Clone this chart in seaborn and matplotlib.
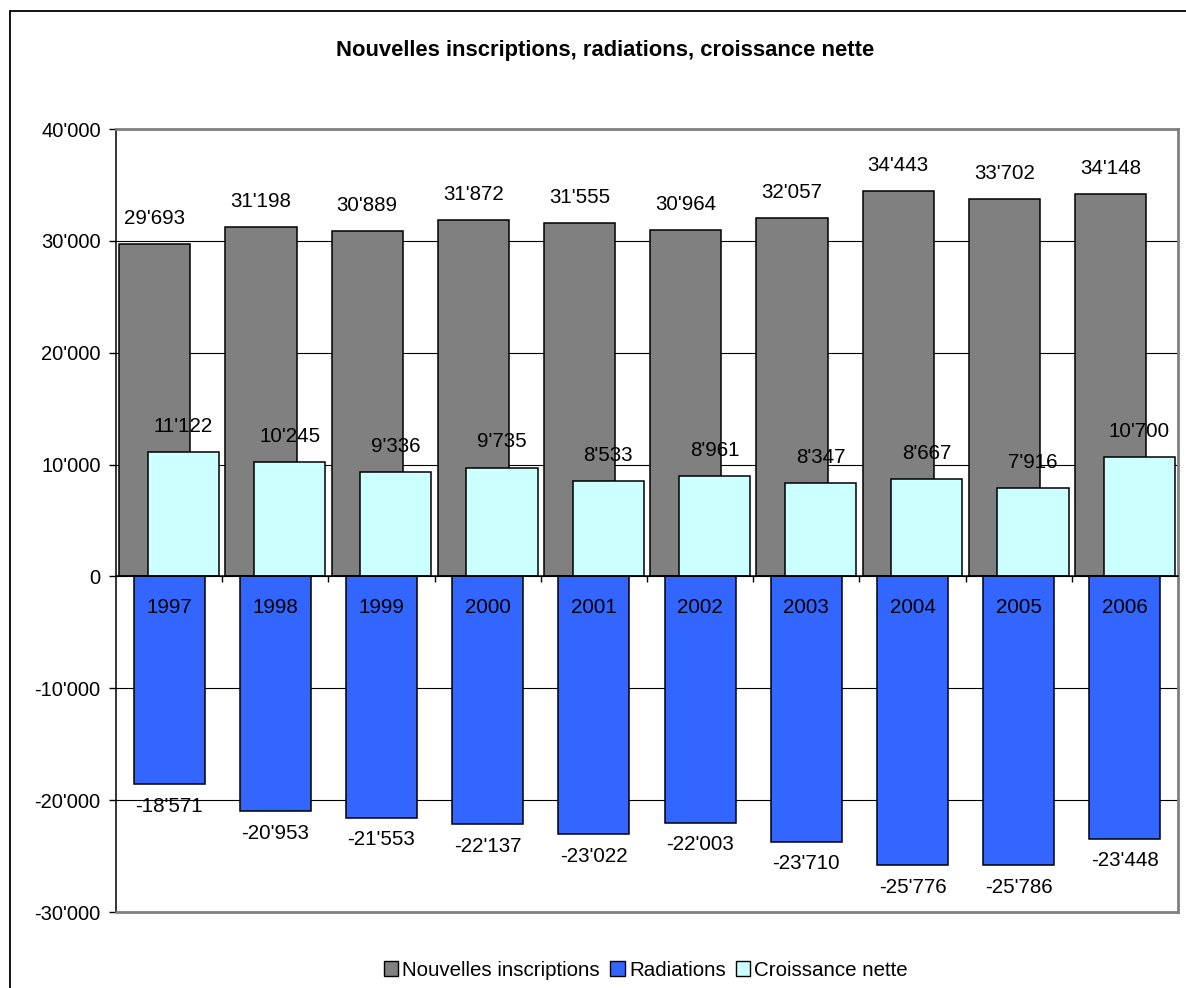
import matplotlib
matplotlib.use("Agg")  # headless backend
import matplotlib.pyplot as plt
from matplotlib.patches import Patch, Rectangle
import numpy as np
import pandas as pd
import seaborn as sns

# ---------------------------------------------------------------------------
# Data
# ---------------------------------------------------------------------------
years = ["1997", "1998", "1999", "2000", "2001", "2002", "2003", "2004", "2005", "2006"]
nouvelles_inscriptions = [29693, 31198, 30889, 31872, 31555, 30964, 32057, 34443, 33702, 34148]
radiations = [-18571, -20953, -21553, -22137, -23022, -22003, -23710, -25776, -25786, -23448]
croissance_nette = [11122, 10245, 9336, 9735, 8533, 8961, 8347, 8667, 7916, 10700]

series_names = ["Nouvelles inscriptions", "Radiations", "Croissance nette"]
series_colors = ["#808080", "#3366FF", "#CCFFFF"]
yticks = [-30000, -20000, -10000, 0, 10000, 20000, 30000, 40000]

title = "Nouvelles inscriptions, radiations, croissance nette"


def fmt(v):
    return f"{v:,}".replace(",", "'")


sns.set_style("white")
plt.rcParams["font.family"] = ["Liberation Sans", "DejaVu Sans"]
plt.rcParams["font.size"] = 14.5
plt.rcParams["text.color"] = "black"

W, H = 1186, 988
fig = plt.figure(figsize=(W / 100, H / 100), dpi=100)
ax = fig.add_axes([116 / W, 1 - 912 / H, (1178 - 116) / W, (912 - 129) / H])

pos = np.arange(len(years))
offset = 0.135
bar_w = 0.67

# overlapping Excel-style bars: grey, then blue, then cyan on top
df = pd.DataFrame({
    "pos": pos,
    "ins": nouvelles_inscriptions,
    "rad": radiations,
    "net": croissance_nette,
})
for col, shift, color in zip(["ins", "rad", "net"], [-offset, 0, offset], series_colors):
    sns.barplot(x=df["pos"] + shift, y=df[col], native_scale=True, width=bar_w,
                color=color, saturation=1, edgecolor="black", linewidth=1.1,
                errorbar=None, ax=ax)

ax.set_xlim(-0.5, len(years) - 0.5)
ax.set_ylim(yticks[0], yticks[-1])
ax.set_xlabel("")
ax.set_ylabel("")

# axes / grid
ax.set_axisbelow(True)
ax.set_yticks(yticks)
ax.set_yticklabels([fmt(t) for t in yticks])
ax.yaxis.grid(True, color="black", linewidth=0.8)
ax.tick_params(axis="y", direction="out", length=5, width=1, pad=6,
               left=True, labelsize=14.5, colors="black")
ax.set_xticks(np.arange(0.5, len(years), 1))
ax.tick_params(axis="x", direction="out", length=4, width=1,
               bottom=True, labelbottom=False, colors="black")

ax.spines["left"].set_color("black")
ax.spines["left"].set_linewidth(1.1)
ax.spines["bottom"].set_position(("data", 0))
ax.spines["bottom"].set_color("black")
ax.spines["bottom"].set_linewidth(1.1)
for side in ["top", "right"]:
    ax.spines[side].set_visible(True)
    ax.spines[side].set_color("#808080")
    ax.spines[side].set_linewidth(2)
ax.axhline(yticks[0], color="#808080", linewidth=2, clip_on=False, zorder=3)

# value labels
for i in pos:
    ax.annotate(fmt(nouvelles_inscriptions[i]), (i - offset, nouvelles_inscriptions[i]),
                xytext=(0, 14.5), textcoords="offset points",
                ha="center", va="baseline", fontsize=14.8, color="black")
    ax.annotate(fmt(croissance_nette[i]), (i + offset, croissance_nette[i]),
                xytext=(0, 14.5), textcoords="offset points",
                ha="center", va="baseline", fontsize=14.8, color="black")
    ax.annotate(fmt(radiations[i]), (i, radiations[i]),
                xytext=(0, -20), textcoords="offset points",
                ha="center", va="baseline", fontsize=14.8, color="black")
    ax.annotate(years[i], (i, 0), xytext=(0, -26), textcoords="offset points",
                ha="center", va="baseline", fontsize=14.8, color="black", zorder=5)

fig.text(605 / W, 1 - 56 / H, title, ha="center", va="baseline",
         fontsize=15.8, fontweight="bold", color="black")

handles = [Patch(facecolor=c, edgecolor="black", linewidth=1) for c in series_colors]
fig.legend(handles, series_names, loc="center", bbox_to_anchor=(646 / W, 1 - 970 / H),
           ncol=3, frameon=False, fontsize=14.8, handlelength=0.7, handleheight=0.7,
           handletextpad=0.2, columnspacing=0.5, borderaxespad=0, labelcolor="black")

# chart-area border (open at the bottom/right as in the screenshot)
fig.add_artist(Rectangle((10 / W, -0.05), 1.2, 1 - 11 / H + 0.05,
                         transform=fig.transFigure, fill=False,
                         edgecolor="black", linewidth=1.3))

fig.savefig("out.png", dpi=100)
plt.close(fig)
